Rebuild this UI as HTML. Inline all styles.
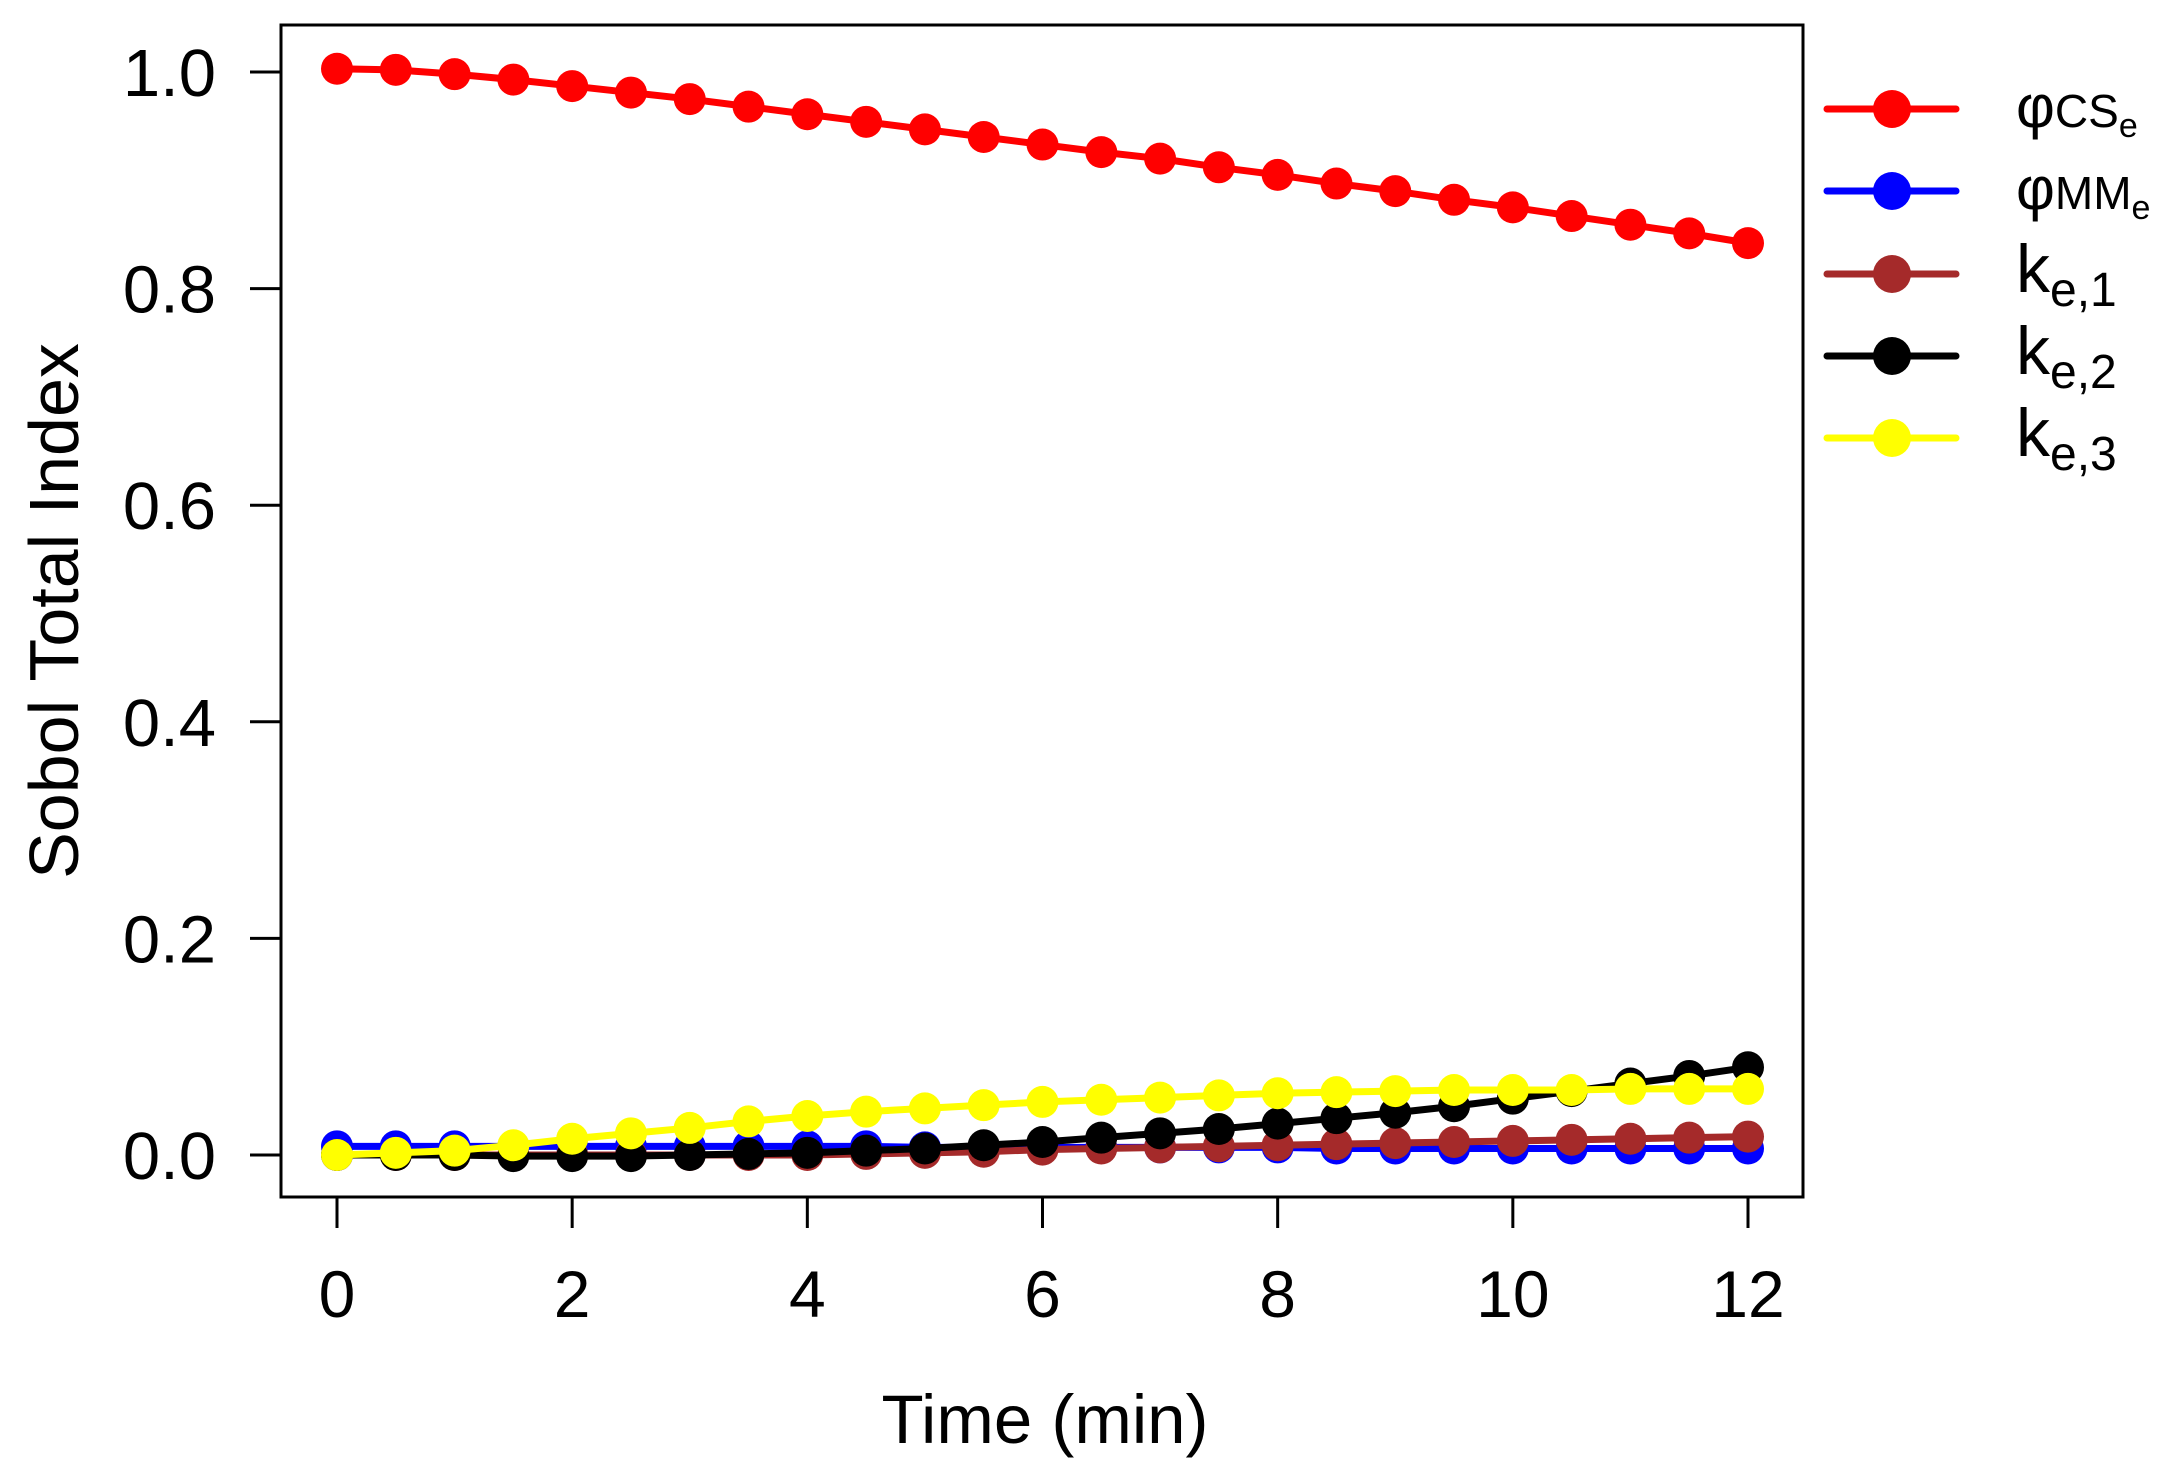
<!DOCTYPE html>
<html><head><meta charset="utf-8"><style>
html,body{margin:0;padding:0;background:#fff}
svg{display:block;font-family:"Liberation Sans",sans-serif}
</style></head><body>
<svg id="chart" width="2171" height="1479" viewBox="0 0 2171 1479">
<rect x="281" y="25" width="1522" height="1172" fill="none" stroke="#000" stroke-width="3"/>
<g id="axes"></g>
<g id="series"></g>
<text x="1045" y="1443" font-size="69" text-anchor="middle">Time (min)</text>
<text transform="translate(78,611) rotate(-90)" font-size="70" text-anchor="middle">Sobol Total Index</text>
<g id="legend"></g>
</svg>
<script>
const times = [0,0.5,1,1.5,2,2.5,3,3.5,4,4.5,5,5.5,6,6.5,7,7.5,8,8.5,9,9.5,10,10.5,11,11.5,12];
const phiCS = [1.003,1.002,0.998,0.993,0.987,0.981,0.975,0.968,0.961,0.954,0.947,0.940,0.933,0.926,0.920,0.912,0.905,0.897,0.890,0.882,0.875,0.867,0.859,0.851,0.842];
const phiMM = [0.008,0.008,0.008,0.008,0.008,0.008,0.008,0.008,0.008,0.008,0.007,0.007,0.007,0.007,0.007,0.007,0.007,0.006,0.006,0.006,0.006,0.006,0.006,0.006,0.006];
const ke1 = [0.000,0.000,0.000,0.000,0.000,0.000,0.000,0.000,0.000,0.001,0.002,0.003,0.005,0.006,0.007,0.008,0.009,0.010,0.011,0.012,0.013,0.014,0.015,0.016,0.017];
const ke2 = [0.000,0.000,0.000,-0.001,-0.001,-0.001,0.000,0.001,0.002,0.004,0.006,0.009,0.012,0.016,0.020,0.024,0.029,0.034,0.039,0.045,0.052,0.059,0.066,0.073,0.081];
const ke3 = [0.000,0.002,0.004,0.009,0.015,0.020,0.025,0.031,0.036,0.040,0.043,0.046,0.049,0.051,0.053,0.055,0.057,0.058,0.059,0.060,0.060,0.060,0.061,0.061,0.061];
const xTicks = [0,2,4,6,8,10,12];
const yTicks = [0.0,0.2,0.4,0.6,0.8,1.0];
const yTickLabels = ["0.0","0.2","0.4","0.6","0.8","1.0"];

const NS = "http://www.w3.org/2000/svg";
function X(t){ return 337 + t*(1748-337)/12; }
function Y(v){ return 1155 - v*(1155-72); }
function mk(tag, attrs, parent){ const e=document.createElementNS(NS,tag); for(const k in attrs) e.setAttribute(k,attrs[k]); parent.appendChild(e); return e; }

const axes = document.getElementById('axes');
xTicks.forEach(t=>{
  const l = mk('line',{x1:X(t),x2:X(t),y1:1197,y2:1228,stroke:'#000','stroke-width':3},axes);
  
  
  const tx = mk('text',{x:X(t),y:1317,'font-size':66,'text-anchor':'middle'},axes);
  tx.textContent = t;
  
  
});
yTicks.forEach((v,i)=>{
  const l = mk('line',{x1:250,x2:281,y1:Y(v),y2:Y(v),stroke:'#000','stroke-width':3},axes);
  
  
  const tx = mk('text',{x:216,y:Y(v)+24,'font-size':67,'text-anchor':'end'},axes);
  tx.textContent = yTickLabels[i];
  
  
});

const seriesList = [
  {name:'phi-cs', vals:phiCS, color:'#ff0000'},
  {name:'phi-mm', vals:phiMM, color:'#0000ff'},
  {name:'k-e1', vals:ke1, color:'#a52a2a'},
  {name:'k-e2', vals:ke2, color:'#000000'},
  {name:'k-e3', vals:ke3, color:'#ffff00'}
];
const sg = document.getElementById('series');
seriesList.forEach(s=>{
  const g = mk('g',{},sg);
  
  
  const pts = times.map((t,i)=>X(t)+','+Y(s.vals[i])).join(' ');
  const pl = mk('polyline',{points:pts,fill:'none',stroke:s.color,'stroke-width':7,'stroke-linejoin':'round'},g);
  
  
  times.forEach((t,i)=>{
    const c = mk('circle',{cx:X(t),cy:Y(s.vals[i]),r:16,fill:s.color},g);
    
    
  });
});

const legend = document.getElementById('legend');
const legRows = [109,191,274,356,438];
const legLabels = [
  ['φ','CS','e'],['φ','MM','e'],['k','e,1',''],['k','e,2',''],['k','e,3','']
];
seriesList.forEach((s,i)=>{
  const y = legRows[i];
  const g = mk('g',{},legend);
  
  
  mk('line',{x1:1827,x2:1956,y1:y,y2:y,stroke:s.color,'stroke-width':7,'stroke-linecap':'round'},g);
  mk('circle',{cx:1892,cy:y,r:19,fill:s.color},g);
  const L = legLabels[i];
  const t = mk('text',{x:2016,y:y+18,'font-size':i<2?60:68},g);
  t.appendChild(document.createTextNode(L[0]));
  if(i<2){
    const a = mk('tspan',{'font-size':46,dy:0},t); a.textContent=L[1];
    const b = mk('tspan',{'font-size':34,dy:10},t); b.textContent=L[2];
  } else {
    const a = mk('tspan',{'font-size':48,dy:14},t); a.textContent=L[1];
  }
});
</script>
</body></html>
